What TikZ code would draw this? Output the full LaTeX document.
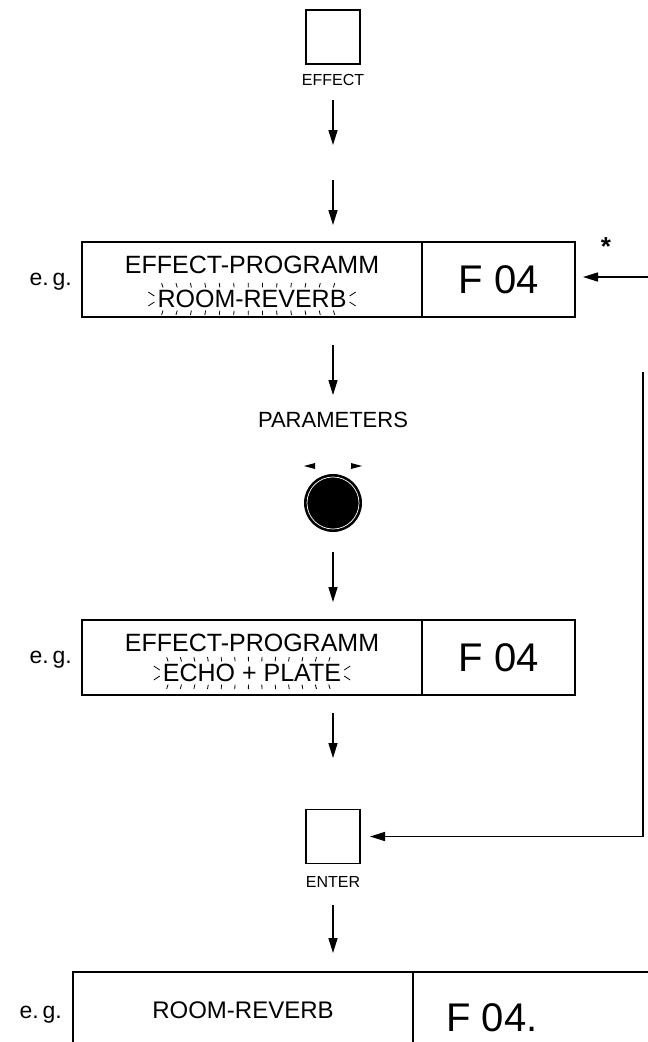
\documentclass[tikz,border=0pt]{standalone}
\usepackage{fontspec}
\setmainfont{Liberation Sans}
\usetikzlibrary{arrows.meta,calc}
\newcommand{\fs}[1]{\fontsize{#1}{#1}\selectfont}
\newcommand{\blinkmarks}[1]{%
  \foreach \f in {0.03,0.105,...,1.0}{%
    \pgfmathsetmacro\ang{(\f-0.5)*40}%
    \pgfmathsetmacro\dx{4.5*sin(\ang)}%
    \pgfmathsetmacro\dy{4.5*cos(\ang)}%
    \draw[tick] ($(#1.north west)!\f!(#1.north east)+(0,-2.5)$) -- ++(\dx,-\dy);
    \draw[tick] ($(#1.south west)!\f!(#1.south east)+(0,2.5)$) -- ++(\dx,\dy);
  }
  \draw[tick] ($(#1.west)+(-3,-3)$) -- ++(-6,-4);
  \draw[tick] ($(#1.west)+(-3,3)$) -- ++(-6,4);
  \draw[tick] ($(#1.east)+(3,-3)$) -- ++(6,-4);
  \draw[tick] ($(#1.east)+(3,3)$) -- ++(6,4);
}
\begin{document}
\begin{tikzpicture}[x=1pt,y=-1pt,
  flow/.style={-{Triangle[length=15pt,width=9pt]}, line width=1.5pt},
  frame/.style={draw, line width=1.3pt, inner sep=0pt},
  txt/.style={inner sep=0pt},
  tick/.style={line width=0.8pt},
  tri/.style={fill=black}
]
\useasboundingbox (0,0) rectangle (648,1042);
\clip (0,0) rectangle (648,1042);

% EFFECT button
\node[frame, minimum width=54pt, minimum height=54pt] (effect) at (333,37) {};
\node[txt, font=\fs{16}] (effl) at (333,80) {EFFECT};
\coordinate (a1s) at (333,100); \coordinate (a1e) at (333,145);
\draw[flow] (a1s) -- (a1e);
\coordinate (a2s) at (333,180); \coordinate (a2e) at (333,225);
\draw[flow] (a2s) -- (a2e);

% display 1
\node[frame, minimum width=340pt, minimum height=75pt] (b1) at (252,279.5) {};
\node[frame, minimum width=153pt, minimum height=75pt] (b1f) at (498.5,279.5) {};
\node[txt, font=\fs{25}] (t1a) at (252,265) {EFFECT-PROGRAMM};
\node[txt, font=\fs{25}] (t1b) at (252,299) {ROOM-REVERB};
\blinkmarks{t1b}
\node[txt, font=\fs{40}] (f1) at (498.5,280) {F 04};
\node[txt, font=\fs{23}, anchor=base east] (eg1) at (72,285) {e.\,g.};
\node[txt, font=\bfseries\fs{26}] (ast) at (606,247) {*};
\coordinate (rtop) at (648,277);
\coordinate (rtip) at (583,277);
\draw[flow] (rtop) -- (rtip);

% parameters
\coordinate (a3s) at (333,345); \coordinate (a3e) at (333,395);
\draw[flow] (a3s) -- (a3e);
\node[txt, font=\fs{22}] (par) at (333,420) {PARAMETERS};
\node[circle, fill=black, minimum size=58pt, inner sep=0pt] (knob) at (333,503) {};
\draw[white, line width=0.7pt] (knob.center) circle (26pt);
\fill[tri] (304,466) -- ++(11,-3) -- ++(0,6) -- cycle;
\fill[tri] (362,466) -- ++(-11,-3) -- ++(0,6) -- cycle;

% display 2
\coordinate (a4s) at (333,552); \coordinate (a4e) at (333,602);
\draw[flow] (a4s) -- (a4e);
\node[frame, minimum width=340pt, minimum height=75pt] (b2) at (252,657.5) {};
\node[frame, minimum width=153pt, minimum height=75pt] (b2f) at (498.5,657.5) {};
\node[txt, font=\fs{25}] (t2a) at (252,643) {EFFECT-PROGRAMM};
\node[txt, font=\fs{25}] (t2b) at (252,673) {ECHO + PLATE};
\blinkmarks{t2b}
\node[txt, font=\fs{40}] (f2) at (498.5,658) {F 04};
\node[txt, font=\fs{23}, anchor=base east] (eg2) at (72,663) {e.\,g.};

% ENTER
\coordinate (a5s) at (333,713); \coordinate (a5e) at (333,758);
\draw[flow] (a5s) -- (a5e);
\node[frame, minimum width=54pt, minimum height=54pt] (enter) at (333,836.5) {};
\node[txt, font=\fs{16}] (enterl) at (333,882) {ENTER};
\coordinate (rv) at (643,372);
\coordinate (etip) at (370,836.5);
\draw[flow] (rv) |- (etip);

% display 3
\coordinate (a6s) at (333,905); \coordinate (a6e) at (333,953);
\draw[flow] (a6s) -- (a6e);
\draw[line width=1.3pt] (700,972) -- (73,972) -- (73,1100);
\draw[line width=1.3pt] (413,972) -- (413,1100);
\node[txt, font=\fs{24}] (t3) at (243,1010) {ROOM-REVERB};
\node[txt, font=\fs{40}] (f3) at (492,1018) {F 04.};
\node[txt, font=\fs{23}, anchor=base east] (eg3) at (62,1018) {e.\,g.};
\end{tikzpicture}
\end{document}
